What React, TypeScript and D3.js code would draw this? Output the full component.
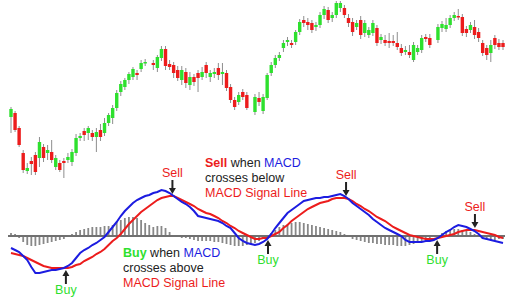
import React from "react";
import * as d3 from "d3";

// price candles (null = no trading that day)
const candleOpen = [
  83, 87, 72, 47, 29, 39, 45, 42, 53, 47,
  48, 33, 37, 39, 40, 38, 47, 62, 69, 67,
  67, 63, 70, 67, 77, 82, 92, 108, 113, 120,
  123, 127, 131, 137, null, 137, 132, 142, 151, 136,
  135, 130, 120, 128, 115, 123, 127, 123, 135, 123,
  126, 132, 126, 127, 113, 100, 98, 108, 105, null,
  88, 102, 89, 102, 127, 135, 142, 152, 158, 157,
  158, 168, 180, 178, 177, 173, 175, 185, 190, 182,
  185, 192, 192, 182, 178, 173, 180, 167, 165, 167,
  172, 160, 160, 159, 159, 157, 152, 148, 148, 140,
  148, 150, 163, 162, null, 160, 172, 171, 175, 182,
  184, 183, 171, 170, 173, 168, 157, 152, 147, 162,
  157, 157,
];
const candleClose = [
  91, 70, 55, 30, 32, 36, 28, 58, 42, 50,
  40, 42, 30, 37, 43, 48, 62, 64, 65, 72,
  63, 68, 63, 77, 85, 92, 107, 116, 120, 126,
  131, 125, 137, 138, null, 135, 143, 151, 134, 133,
  127, 122, 130, 117, 123, 118, 122, 128, 127, 127,
  128, 125, 128, 112, 100, 93, 105, 103, 92, null,
  103, 98, 103, 125, 135, 142, 145, 157, 160, 155,
  168, 178, 177, 175, 170, 175, 185, 191, 180, 185,
  197, 197, 185, 177, 168, 177, 165, 177, 170, 177,
  157, 163, 157, 157, 157, 153, 147, 150, 145, 155,
  152, 162, 161, 155, null, 173, 176, 175, 182, 185,
  183, 167, 167, 175, 165, 162, 147, 145, 155, 155,
  153, 153,
];
const candleHigh = [
  93, 89, 74, 50, 37, 43, 48, 63, 56, 55,
  60, 45, 40, 42, 47, 51, 66, 67, 72, 74,
  70, 72, 76, 82, 87, 95, 110, 119, 122, 128,
  133, 130, 140, 141, null, 140, 145, 154, 154, 140,
  138, 134, 134, 132, 128, 126, 130, 133, 138, 130,
  132, 137, 137, 130, 116, 103, 108, 111, 108, null,
  106, 108, 106, 127, 138, 145, 148, 160, 163, 160,
  170, 181, 184, 182, 180, 178, 188, 194, 193, 188,
  199, 199, 195, 186, 182, 180, 184, 180, 173, 180,
  175, 166, 165, 167, 165, 168, 156, 154, 155, 158,
  155, 165, 166, 166, null, 176, 179, 182, 185, 188,
  191, 186, 174, 178, 180, 172, 160, 155, 160, 165,
  161, 160,
];
const candleLow = [
  67, 68, 53, 27, 26, 25, 25, 33, 38, 40,
  37, 30, 28, 22, 37, 34, 44, 59, 59, 60,
  59, 48, 59, 64, 74, 76, 89, 104, 110, 116,
  120, 120, 128, 134, null, 130, 128, 139, 130, 130,
  122, 119, 115, 112, 110, 114, 108, 120, 122, 118,
  122, 120, 115, 109, 97, 90, 95, 100, 90, null,
  85, 94, 86, 100, 124, 132, 139, 148, 154, 152,
  155, 165, 173, 170, 167, 169, 172, 181, 177, 178,
  182, 188, 182, 173, 164, 170, 161, 163, 162, 164,
  154, 156, 154, 152, 154, 150, 144, 145, 142, 138,
  145, 147, 158, 152, null, 157, 168, 168, 172, 179,
  180, 164, 163, 167, 161, 158, 144, 140, 138, 151,
  150, 150,
];

// MACD panel
const macdLine = [
  -1.2, -1.4, -1.6, -2.0, -2.4, -3.1, -3.7, -3.7, -3.6, -3.5,
  -3.4, -3.4, -3.3, -3.2, -3.0, -2.7, -2.2, -1.7, -1.4, -1.2,
  -0.9, -0.7, -0.4, -0.1, 0.4, 0.9, 1.4, 2.0, 2.5, 2.9,
  3.3, 3.6, 3.8, 4.0, 4.1, 4.3, 4.4, 4.6, 4.5, 4.3,
  4.0, 3.7, 3.4, 3.2, 2.9, 2.5, 2.0, 1.9, 1.8, 1.7,
  1.6, 1.5, 1.3, 1.0, 0.8, 0.3, -0.2, -0.5, -0.7, -0.8,
  -0.9, -0.8, -0.6, -0.3, 0.2, 0.8, 1.3, 1.8, 2.3, 2.6,
  2.9, 3.2, 3.5, 3.6, 3.7, 3.8, 3.8, 3.9, 3.9, 4.0,
  4.1, 4.2, 4.0, 3.7, 3.3, 3.0, 2.7, 2.4, 2.1, 1.7,
  1.4, 1.1, 0.8, 0.6, 0.4, 0.2, 0.0, -0.4, -0.6, -0.6,
  -0.6, -0.6, -0.5, -0.5, -0.4, -0.2, 0.1, 0.4, 0.6, 0.9,
  1.1, 1.0, 0.9, 0.7, 0.5, 0.2, -0.2, -0.3, -0.4, -0.5,
  -0.6, -0.7,
];
const signalLine = [
  -1.7, -1.8, -1.9, -2.0, -2.2, -2.4, -2.6, -2.8, -3.0, -3.1,
  -3.2, -3.2, -3.2, -3.2, -3.2, -3.1, -2.9, -2.8, -2.5, -2.3,
  -2.1, -1.8, -1.6, -1.3, -0.9, -0.5, -0.2, 0.2, 0.7, 1.2,
  1.6, 2.0, 2.4, 2.7, 3.0, 3.3, 3.6, 3.8, 3.9, 4.0,
  4.0, 3.8, 3.6, 3.4, 3.2, 3.0, 2.7, 2.5, 2.3, 2.2,
  2.0, 1.8, 1.5, 1.3, 1.0, 0.8, 0.5, 0.3, 0.1, -0.1,
  -0.3, -0.3, -0.2, -0.2, 0.0, 0.2, 0.4, 0.8, 1.1, 1.5,
  1.8, 2.1, 2.4, 2.7, 2.9, 3.1, 3.3, 3.4, 3.5, 3.7,
  3.8, 3.8, 3.8, 3.7, 3.5, 3.2, 3.0, 2.7, 2.5, 2.2,
  1.9, 1.7, 1.5, 1.2, 0.9, 0.7, 0.5, 0.3, 0.1, 0.0,
  -0.1, -0.2, -0.3, -0.3, -0.3, -0.2, -0.1, 0.0, 0.1, 0.2,
  0.4, 0.5, 0.6, 0.6, 0.6, 0.5, 0.4, 0.3, 0.2, 0.1,
  -0.1, -0.2,
];
const histogram = [
  0.3, 0.2, -0.2, -0.6, -0.9, -1.0, -1.0, -0.9, -0.8, -0.7,
  -0.6, -0.5, -0.4, -0.3, -0.1, 0.2, 0.4, 0.6, 0.7, 0.8,
  0.9, 0.9, 0.9, 1.0, 1.0, 1.1, 1.4, 1.6, 1.8, 1.9,
  1.9, 1.8, 1.6, 1.3, 1.1, 0.9, 1.0, 1.0, 0.8, 0.4,
  -0.1, -0.1, -0.2, -0.2, -0.3, -0.4, -0.5, -0.5, -0.5, -0.5,
  -0.6, -0.6, -0.7, -0.8, -0.9, -1.0, -1.0, -1.0, -0.9, -0.8,
  -0.7, -0.5, -0.3, 0.0, 0.3, 0.6, 0.9, 1.1, 1.2, 1.3,
  1.4, 1.4, 1.3, 1.2, 1.1, 1.0, 0.9, 0.8, 0.7, 0.6,
  0.5, 0.4, 0.2, -0.1, -0.3, -0.4, -0.5, -0.6, -0.7, -0.7,
  -0.8, -0.8, -0.9, -0.9, -0.9, -1.0, -1.0, -1.0, -0.9, -0.8,
  -0.7, -0.6, -0.4, -0.3, -0.1, 0.1, 0.3, 0.5, 0.6, 0.7,
  0.7, 0.6, 0.5, 0.4, 0.2, -0.1, -0.3, -0.4, -0.4, -0.4,
  -0.3, -0.3,
];

// crossover markers
const signalType = ["Buy", "Sell", "Buy", "Sell", "Buy", "Sell"];
const signalAt = [13.5, 39.7, 63.2, 82.4, 104.8, 114.1];
const signalLevel = [-3.2, 4.0, -0.2, 3.8, -0.2, 0.6];

const RED = "#ec1c1c";
const GREEN = "#2ee02e";
const BLUE = "#1c1ce0";
const FONT = "Arial, 'Liberation Sans', sans-serif";
const FS = 12.5;

const App = () => {
  const width = 512;
  const height = 305;

  const x = d3.scaleLinear().domain([0, candleOpen.length - 1]).range([11, 503]);
  const priceY = d3.scaleLinear().domain([0, 200]).range([200, 0]);
  const macdY = d3.scaleLinear().domain([-5, 5]).range([286, 186]);

  const line = d3
    .line<number>()
    .x((_, i) => x(i))
    .y((d) => macdY(d));

  return (
    <svg
      width={width}
      height={height}
      style={{ position: "absolute", left: 0, top: 0, background: "#fff" }}
      fontFamily={FONT}
    >
      {/* candles */}
      {candleOpen.map((o, i) => {
        const c = candleClose[i];
        if (o === null || c === null) return null;
        const up = c >= o;
        const top = priceY(Math.max(o, c));
        const bot = priceY(Math.min(o, c));
        return (
          <g key={i}>
            <line
              x1={x(i)}
              x2={x(i)}
              y1={priceY(candleHigh[i] as number)}
              y2={priceY(candleLow[i] as number)}
              stroke="#8e8e8e"
              strokeWidth={1}
            />
            <rect
              x={x(i) - 1.7}
              y={top}
              width={3.4}
              height={Math.max(1.5, bot - top)}
              fill={up ? GREEN : RED}
            />
          </g>
        );
      })}

      {/* histogram */}
      {histogram.map((h, i) => (
        <rect
          key={i}
          x={x(i) - 0.9}
          y={Math.min(macdY(h), macdY(0))}
          width={1.8}
          height={Math.abs(macdY(h) - macdY(0))}
          fill="#888"
        />
      ))}
      <line x1={8} x2={505} y1={macdY(0)} y2={macdY(0)} stroke="#707070" strokeWidth={1.8} />

      <path d={line(signalLine) ?? ""} fill="none" stroke={RED} strokeWidth={2} />
      <path d={line(macdLine) ?? ""} fill="none" stroke={BLUE} strokeWidth={2} />

      {/* buy / sell arrows */}
      {signalType.map((t, k) => {
        const cx = x(signalAt[k]);
        const sell = t === "Sell";
        const tip = macdY(signalLevel[k]) + (sell ? -2 : 2);
        const dir = sell ? -1 : 1;
        return (
          <g key={k}>
            <line x1={cx} x2={cx} y1={tip + dir * 14} y2={tip + dir * 4} stroke="#222" strokeWidth={2} />
            <path
              d={`M${cx},${tip} L${cx - 3.5},${tip + dir * 6} L${cx + 3.5},${tip + dir * 6} Z`}
              fill="#222"
            />
            <text
              x={cx}
              y={sell ? tip - 17 : tip + 24}
              textAnchor="middle"
              fontSize={FS}
              fill={sell ? RED : GREEN}
            >
              {t}
            </text>
          </g>
        );
      })}

      {/* explanation blocks */}
      <text x={205} y={167} fontSize={FS} fill="#222">
        <tspan fill={RED} fontWeight="bold">Sell</tspan>
        <tspan> when </tspan>
        <tspan fill={BLUE}>MACD</tspan>
      </text>
      <text x={205} y={182} fontSize={FS} fill="#222">crosses below</text>
      <text x={205} y={197} fontSize={FS} fill={RED}>MACD Signal Line</text>

      <text x={123} y={257} fontSize={FS} fill="#222">
        <tspan fill={GREEN} fontWeight="bold">Buy</tspan>
        <tspan> when </tspan>
        <tspan fill={BLUE}>MACD</tspan>
      </text>
      <text x={123} y={272} fontSize={FS} fill="#222">crosses above</text>
      <text x={123} y={287} fontSize={FS} fill={RED}>MACD Signal Line</text>
    </svg>
  );
};

export default App;
